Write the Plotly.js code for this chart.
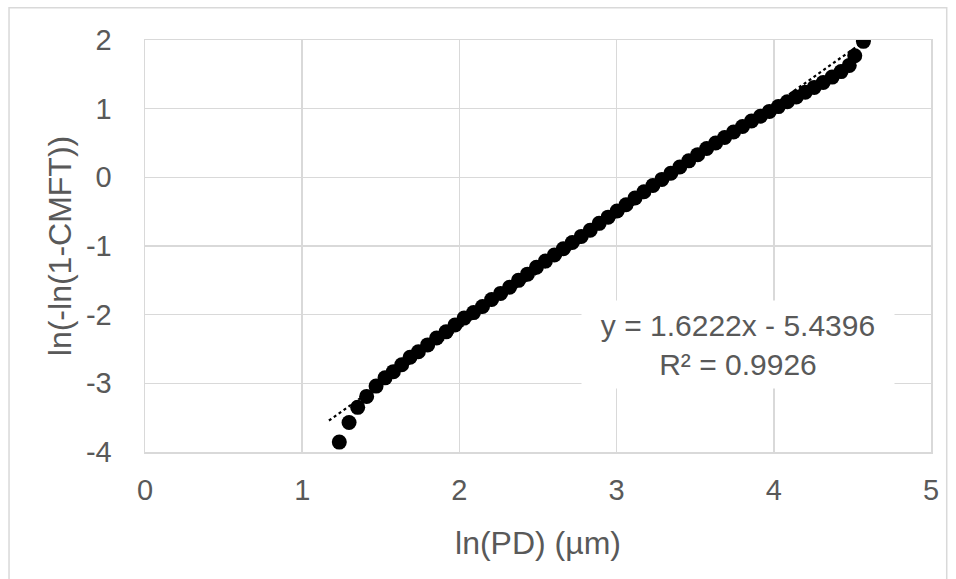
<!DOCTYPE html>
<html>
<head>
<meta charset="utf-8">
<script src="https://cdn.plot.ly/plotly-3.0.1.min.js"></script>
<style>
html,body{margin:0;padding:0;background:#fff;}
#chart{width:956px;height:579px;}
</style>
</head>
<body>
<div id="chart"></div>
<script>
// ln(PD) values (x) and ln(-ln(1-CMFT)) values (y)
const lnPD = [
  1.236, 1.298, 1.353, 1.410, 1.470, 1.527, 1.580, 1.633, 1.686, 1.739,
  1.798, 1.855, 1.915, 1.972, 2.030, 2.090, 2.147, 2.205, 2.262, 2.319,
  2.376, 2.433, 2.490, 2.547, 2.604, 2.661, 2.718, 2.775, 2.832, 2.889,
  2.946, 3.003, 3.060, 3.117, 3.174, 3.231, 3.288, 3.345, 3.402, 3.459,
  3.516, 3.573, 3.630, 3.687, 3.744, 3.801, 3.858, 3.915, 3.972, 4.029,
  4.086, 4.143, 4.200, 4.257, 4.314, 4.371, 4.428, 4.480, 4.515, 4.570
];
const lnLnCMFT = [
  -3.856, -3.57, -3.35, -3.19, -3.04, -2.92, -2.83, -2.73, -2.62, -2.54,
  -2.44, -2.34, -2.25, -2.15, -2.05, -1.97, -1.88, -1.78, -1.69, -1.60,
  -1.50, -1.41, -1.31, -1.22, -1.13, -1.04, -0.95, -0.86, -0.77, -0.67,
  -0.58, -0.49, -0.40, -0.30, -0.21, -0.12, -0.03, 0.06, 0.15, 0.24,
  0.33, 0.42, 0.50, 0.58, 0.66, 0.74, 0.82, 0.89, 0.96, 1.03,
  1.10, 1.17, 1.24, 1.31, 1.38, 1.46, 1.54, 1.63, 1.77, 1.98
];

// Linear trendline as given on the chart: y = 1.6222x - 5.4396
const trendSlope = [1.6222];
const trendIntercept = [-5.4396];
const trendX = [1.17, 4.57];
const trendY = trendX.map(x => trendSlope[0] * x + trendIntercept[0]);

const xTicks = [0, 1, 2, 3, 4, 5];
const yTicks = [-4, -3, -2, -1, 0, 1, 2];

const equationText = 'y = 1.6222x - 5.4396<br>R² = 0.9926';

const font = 'Liberation Sans, Arial, sans-serif';
const grey = '#595959';
const gridC = '#d9d9d9';

const traces = [
  {
    x: lnPD, y: lnLnCMFT, type: 'scatter', mode: 'markers',
    marker: {color: '#000000', size: 15, line: {width: 0}},
    hoverinfo: 'x+y', showlegend: false
  },
  {
    x: trendX, y: trendY, type: 'scatter', mode: 'lines',
    line: {color: '#000000', width: 2.2, dash: 'dot'},
    hoverinfo: 'skip', showlegend: false
  }
];

const layout = {
  width: 956, height: 579,
  margin: {l: 145, r: 25, t: 40, b: 127},
  paper_bgcolor: '#ffffff', plot_bgcolor: '#ffffff',
  font: {family: font, color: grey, size: 29},
  showlegend: false,
  xaxis: {
    range: [0, 5], tickvals: xTicks, ticktext: xTicks.map(String),
    showgrid: true, gridcolor: gridC, gridwidth: 1.5,
    zeroline: false, showline: true, linecolor: gridC, linewidth: 1.5, mirror: true,
    ticks: '', ticklabelstandoff: 12,
    tickfont: {family: font, size: 29, color: grey},
    title: {text: 'ln(PD) (µm)', font: {family: font, size: 32, color: grey}, standoff: 26},
    fixedrange: true
  },
  yaxis: {
    range: [-4, 2], tickvals: yTicks, ticktext: yTicks.map(String),
    showgrid: true, gridcolor: gridC, gridwidth: 1.5,
    zeroline: false, showline: true, linecolor: gridC, linewidth: 1.5, mirror: true,
    ticks: '', ticklabelstandoff: 26,
    tickfont: {family: font, size: 29, color: grey},
    title: {text: 'ln(-ln(1-CMFT))', font: {family: font, size: 32, color: grey}, standoff: 4},
    fixedrange: true
  },
  annotations: [
    {
      x: 3.772, y: -2.432, xref: 'x', yref: 'y',
      text: equationText, showarrow: false,
      font: {family: font, size: 30, color: grey},
      bgcolor: '#ffffff', width: 310, height: 85, align: 'center', valign: 'middle'
    }
  ],
  shapes: [
    {
      type: 'rect', xref: 'paper', yref: 'paper',
      x0: -0.173, x1: 1.020, y0: -0.33, y1: 1.078,
      line: {color: gridC, width: 1.5}, fillcolor: 'rgba(0,0,0,0)', layer: 'below'
    }
  ]
};

Plotly.newPlot('chart', traces, layout, {displayModeBar: false, staticPlot: true});
</script>
</body>
</html>
